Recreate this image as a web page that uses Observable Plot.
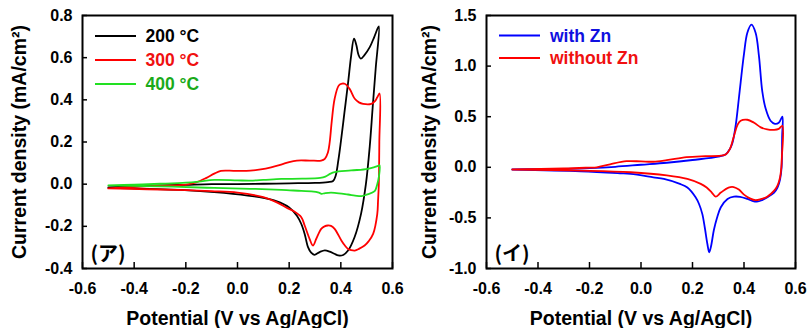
<!DOCTYPE html>
<html><head><meta charset="utf-8">
<script src="https://cdn.jsdelivr.net/npm/d3@7"></script>
<script src="https://cdn.jsdelivr.net/npm/@observablehq/plot@0.6"></script>
<style>
body{margin:0;background:#fff;}
#wrap{position:relative;width:811px;height:328px;overflow:hidden;font-family:"Liberation Sans",Arial,sans-serif;}
.panel{position:absolute;top:0;}
g[aria-label="x-axis label"], g[aria-label="y-axis label"]{font-size:19.5px;}
#legend{position:absolute;left:0;top:0;pointer-events:none;}
</style>
</head><body>
<div id="wrap">
  <div id="p1" class="panel" style="left:0"></div>
  <div id="p2" class="panel" style="left:405px"></div>
  <svg id="legend" width="811" height="328"></svg>
</div>
<script>
// ---- Data (potential V vs Ag/AgCl, current density mA/cm2), sweep order ----
const t200 = [[-0.5,-0.015],[-0.4,-0.01],[-0.3,-0.006],[-0.2,-0.003],[-0.1,0.0],[0.0,0.0],[0.1,0.002],[0.2,0.004],[0.3,0.006],[0.35,0.01],[0.37,0.015],[0.38,0.04],[0.39,0.11],[0.4,0.2],[0.414,0.34],[0.428,0.48],[0.44,0.61],[0.451,0.69],[0.46,0.66],[0.468,0.615],[0.477,0.595],[0.49,0.61],[0.512,0.65],[0.53,0.7],[0.547,0.748],[0.535,0.55],[0.523,0.36],[0.512,0.18],[0.497,0.0],[0.478,-0.142],[0.453,-0.252],[0.428,-0.315],[0.409,-0.336],[0.39,-0.338],[0.375,-0.33],[0.357,-0.32],[0.338,-0.314],[0.318,-0.322],[0.298,-0.335],[0.285,-0.325],[0.273,-0.299],[0.26,-0.236],[0.247,-0.189],[0.23,-0.15],[0.2,-0.11],[0.15,-0.08],[0.1,-0.065],[0.04,-0.054],[-0.09,-0.038],[-0.22,-0.027],[-0.35,-0.022],[-0.5,-0.017]];
const t300 = [[-0.5,-0.02],[-0.4,-0.013],[-0.3,-0.007],[-0.2,-0.002],[-0.16,0.008],[-0.12,0.03],[-0.09,0.05],[-0.064,0.063],[-0.03,0.064],[0.0,0.063],[0.05,0.064],[0.09,0.07],[0.13,0.08],[0.169,0.093],[0.2,0.105],[0.23,0.112],[0.28,0.112],[0.324,0.112],[0.338,0.12],[0.35,0.15],[0.357,0.2],[0.365,0.3],[0.376,0.405],[0.392,0.468],[0.405,0.477],[0.415,0.476],[0.434,0.452],[0.454,0.405],[0.47,0.388],[0.486,0.381],[0.518,0.381],[0.533,0.395],[0.541,0.412],[0.55,0.43],[0.549,0.2],[0.547,0.0],[0.544,-0.08],[0.541,-0.142],[0.525,-0.236],[0.508,-0.27],[0.492,-0.291],[0.47,-0.307],[0.454,-0.315],[0.44,-0.313],[0.428,-0.307],[0.415,-0.29],[0.402,-0.267],[0.376,-0.212],[0.362,-0.198],[0.35,-0.196],[0.337,-0.2],[0.324,-0.212],[0.305,-0.259],[0.292,-0.291],[0.279,-0.259],[0.26,-0.196],[0.247,-0.157],[0.22,-0.13],[0.195,-0.115],[0.15,-0.085],[0.1,-0.062],[0.0,-0.04],[-0.1,-0.033],[-0.2,-0.028],[-0.35,-0.024],[-0.5,-0.02]];
const t400 = [[-0.5,-0.006],[-0.4,-0.002],[-0.3,0.002],[-0.2,0.007],[-0.15,0.012],[-0.09,0.02],[0.0,0.018],[0.05,0.017],[0.1,0.02],[0.17,0.025],[0.25,0.026],[0.32,0.03],[0.34,0.036],[0.36,0.05],[0.376,0.057],[0.44,0.065],[0.505,0.073],[0.547,0.088],[0.55,0.09],[0.548,0.04],[0.541,0.0],[0.531,-0.033],[0.5,-0.05],[0.48,-0.057],[0.455,-0.054],[0.428,-0.049],[0.376,-0.041],[0.34,-0.042],[0.325,-0.046],[0.315,-0.04],[0.286,-0.034],[0.247,-0.032],[0.17,-0.027],[0.05,-0.022],[-0.09,-0.018],[-0.25,-0.012],[-0.5,-0.006]];
const withZn = [[-0.5,-0.02],[-0.4,-0.018],[-0.3,-0.015],[-0.2,-0.008],[-0.1,0.005],[0.0,0.025],[0.1,0.045],[0.2,0.072],[0.3,0.105],[0.33,0.13],[0.345,0.18],[0.355,0.24],[0.368,0.42],[0.38,0.68],[0.387,0.84],[0.4,1.12],[0.413,1.33],[0.429,1.41],[0.445,1.33],[0.458,1.1],[0.471,0.75],[0.484,0.58],[0.503,0.46],[0.52,0.43],[0.535,0.44],[0.549,0.5],[0.548,0.3],[0.546,0.0],[0.54,-0.12],[0.53,-0.2],[0.517,-0.25],[0.491,-0.296],[0.47,-0.325],[0.45,-0.34],[0.43,-0.33],[0.413,-0.313],[0.385,-0.292],[0.361,-0.29],[0.336,-0.313],[0.31,-0.395],[0.295,-0.5],[0.283,-0.62],[0.272,-0.78],[0.265,-0.84],[0.258,-0.76],[0.248,-0.6],[0.238,-0.46],[0.225,-0.36],[0.212,-0.296],[0.18,-0.2],[0.151,-0.164],[0.089,-0.115],[0.048,-0.099],[-0.04,-0.066],[-0.082,-0.059],[-0.234,-0.039],[-0.5,-0.022]];
const withoutZn = [[-0.5,-0.02],[-0.3,-0.012],[-0.2,-0.003],[-0.172,0.0],[-0.12,0.03],[-0.056,0.06],[0.0,0.058],[0.048,0.055],[0.1,0.07],[0.177,0.1],[0.25,0.11],[0.31,0.115],[0.33,0.13],[0.345,0.18],[0.36,0.3],[0.375,0.42],[0.387,0.46],[0.413,0.47],[0.439,0.44],[0.465,0.395],[0.49,0.375],[0.517,0.37],[0.535,0.38],[0.549,0.41],[0.547,0.1],[0.545,0.0],[0.54,-0.1],[0.53,-0.18],[0.517,-0.23],[0.49,-0.29],[0.465,-0.315],[0.445,-0.325],[0.425,-0.31],[0.4,-0.27],[0.38,-0.22],[0.36,-0.195],[0.34,-0.2],[0.31,-0.25],[0.29,-0.29],[0.275,-0.25],[0.255,-0.2],[0.232,-0.164],[0.18,-0.115],[0.1,-0.08],[-0.04,-0.049],[-0.234,-0.033],[-0.5,-0.022]];

const xTicks = [-0.6,-0.4,-0.2,0.0,0.2,0.4,0.6];
const yTicksA = [-0.4,-0.2,0.0,0.2,0.4,0.6,0.8];
const yTicksB = [-1.0,-0.5,0.0,0.5,1.0,1.5];
const seriesA = ["200 °C","300 °C","400 °C"];
const seriesB = ["with Zn","without Zn"];
const xLabel = "Potential (V vs Ag/AgCl)";
const yLabel = "Current density (mA/cm²)";
const panelTags = ["(ア)","(イ)"];

const fmt = d => (Math.abs(d) < 1e-9 ? 0 : d).toFixed(1);
const FONT = '"Liberation Sans", Arial, sans-serif';
const H = 328, MT = 15, MB = 60;

function panel({width, marginLeft, marginRight, yDomain, yTicks, series, tag, yLabelOffset}) {
  const fw = width - marginLeft - marginRight, fh = H - MT - MB;
  return Plot.plot({
    width, height: H,
    marginLeft, marginRight, marginTop: MT, marginBottom: MB,
    style: {fontFamily: FONT, fontSize: "16px", fontWeight: "bold", color: "black", background: "white", overflow: "visible"},
    x: {domain: [-0.6, 0.6]},
    y: {domain: yDomain},
    marks: [
      ...series.map(s => Plot.line(s.data, {x: d => d[0], y: d => d[1], stroke: s.color, strokeWidth: 1.8, curve: "catmull-rom"})),
      // inward tick marks
      Plot.tickX(xTicks, {x: d => d, insetTop: fh - 6, stroke: "black", strokeWidth: 1.5}),
      Plot.tickY(yTicks, {y: d => d, insetRight: fw - 5, stroke: "black", strokeWidth: 1.5}),
      Plot.axisX({ticks: xTicks, tickFormat: fmt, tickSize: 0, tickPadding: 14,
        label: xLabel, labelAnchor: "center", labelOffset: 56, labelArrow: "none"}),
      Plot.axisY({ticks: yTicks, tickFormat: fmt, tickSize: 0, tickPadding: 10,
        label: yLabel, labelAnchor: "center", labelOffset: yLabelOffset, labelArrow: "none"}),
      Plot.frame({stroke: "black", strokeWidth: 2}),
      Plot.text([tag], {text: d => d, frameAnchor: "bottom-left", dx: 8, dy: -8, textAnchor: "start",
        fontFamily: '"Noto Sans CJK JP", sans-serif', fontSize: 20, fontWeight: "bold", lineAnchor: "bottom"})
    ]
  });
}

document.getElementById("p1").append(panel({
  width: 405, marginLeft: 82, marginRight: 13, yDomain: [-0.4, 0.8], yTicks: yTicksA, tag: panelTags[0], yLabelOffset: 70,
  series: [{data: t200, color: "#000000"}, {data: t300, color: "#ff0000"}, {data: t400, color: "#22e022"}]
}));
document.getElementById("p2").append(panel({
  width: 406, marginLeft: 81, marginRight: 16, yDomain: [-1.0, 1.5], yTicks: yTicksB, tag: panelTags[1], yLabelOffset: 64,
  series: [{data: withZn, color: "#0000ff"}, {data: withoutZn, color: "#ff0000"}]
}));

// ---- Legends ----
const leg = d3.select("#legend");
function legend(items, x0, x1, xt, ys) {
  items.forEach((it, i) => {
    leg.append("line").attr("x1", x0).attr("x2", x1).attr("y1", ys[i]).attr("y2", ys[i])
      .attr("stroke", it.line).attr("stroke-width", 2);
    leg.append("text").attr("x", xt).attr("y", ys[i] + 6.2).text(it.label)
      .attr("fill", it.text).attr("font-family", FONT).attr("font-weight", "bold").attr("font-size", 17.5);
  });
}
legend([
  {label: seriesA[0], line: "#000", text: "#000"},
  {label: seriesA[1], line: "#ff0000", text: "#f01010"},
  {label: seriesA[2], line: "#22e022", text: "#1aaa1a"}
], 95, 136, 145.5, [36, 60, 84]);
legend([
  {label: seriesB[0], line: "#0000ff", text: "#1010e0"},
  {label: seriesB[1], line: "#ff0000", text: "#f01010"}
], 499, 540, 550, [35.5, 58]);
</script>
</body></html>
